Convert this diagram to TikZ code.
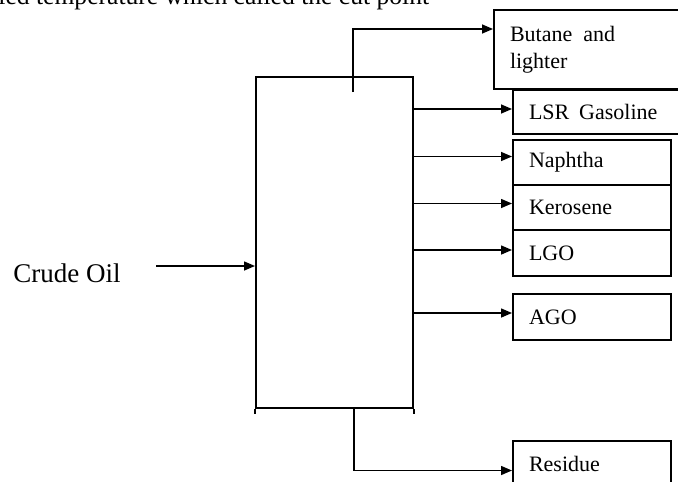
\documentclass[tikz,border=0pt]{standalone}
\usepackage{fontspec}
\setmainfont{Liberation Serif}
\usetikzlibrary{arrows.meta, positioning, calc}
\tikzset{
  colbox/.style={draw, line width=1pt, anchor=north west, inner sep=0pt},
  prodbox/.style={draw, line width=1pt, anchor=north west, align=left,
                  inner xsep=8pt, inner ysep=0pt, text width=63pt,
                  minimum height=22.5pt, font=\fontsize{11}{13.5}\selectfont},
  arr/.style={-{Triangle[length=5.5pt,width=4.5pt]}, line width=.75pt},
  tick/.style={line width=1pt},
}

\begin{document}
\begin{tikzpicture}[x=0.5pt, y=-0.5pt]
  \useasboundingbox (0,0) rectangle (678,481);
  \node[anchor=base west, inner sep=0pt, font=\fontsize{12.8}{15}\selectfont]
    (cuttext) at (-2,5) {ied temperature which called the cut point};

  \node[colbox, minimum width=78.5pt, minimum height=165.5pt] (column) at (255,76) {};
  \draw[tick] (column.south west) -- ++(0,5);
  \draw[tick] (column.south east) -- ++(0,5);

  \node[prodbox, text width=87.5pt, minimum height=39.5pt] (butane) at (493,9)
    {Butane\hspace{.5em}and\\lighter};
  \node[prodbox, text width=78pt, minimum height=22pt] (lsr) at (512,89)
    {LSR\hspace{.45em}Gasoline};
  \node[prodbox] (naphtha) at (512,139) {Naphtha};
  \node[prodbox] (kerosene) at (512,184) {Kerosene};
  \node[prodbox, minimum height=23pt] (lgo) at (512,229) {LGO};
  \node[prodbox, minimum height=23pt] (ago) at (512,293) {AGO};
  \node[prodbox] (residue) at (512,440) {Residue};

  \node[inner sep=0pt, font=\fontsize{13.5}{16}\selectfont] (crude) at (67,273) {Crude Oil};
  \coordinate (feed) at ($(column.west)+(-99,23.5)$);
  \draw[arr] (feed) -- (feed -| column.west);

  % overhead and bottoms
  \coordinate (vapour) at ($(column.north west)+(98,16)$);
  \draw[arr] (vapour) |- ($(butane.north west)+(0,20)$);
  \coordinate (bottoms) at ($(column.south west)+(99,0)$);
  \draw[arr] (bottoms) |- ($(residue.west)+(0,7)$);

  % side draws
  \foreach \p/\dy in {lsr/-3, naphtha/-6, kerosene/-4, lgo/-3, ago/-4} {
    \coordinate (\p-in) at ($(\p.west)+(0,\dy)$);
    \draw[arr] (column.east |- \p-in) -- (\p-in);
  }
\end{tikzpicture}
\end{document}
